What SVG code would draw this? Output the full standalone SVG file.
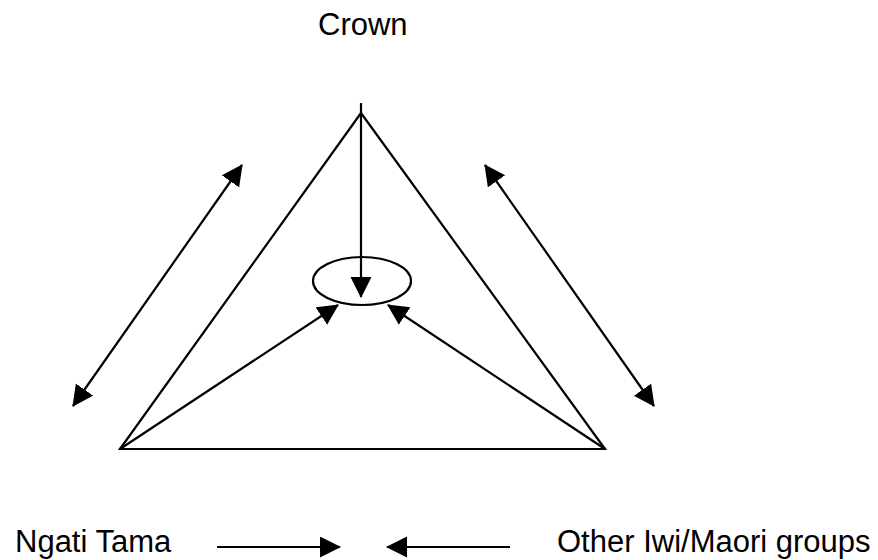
<svg xmlns="http://www.w3.org/2000/svg" width="878" height="560" viewBox="0 0 878 560">
<style>
.ln{stroke:#000;stroke-width:2.2;fill:none}
.lbl{font-family:"Liberation Sans",Arial,sans-serif;font-size:31px;fill:#000}
</style>
<defs>
<marker id="ah" markerUnits="userSpaceOnUse" markerWidth="22" markerHeight="22" refX="20" refY="10.5" orient="auto-start-reverse" viewBox="0 0 22 22">
<path d="M0,0 L21,10.5 L0,21 z" fill="#000"/>
</marker>
</defs>
<rect width="878" height="560" fill="#fff"/>
<g id="crown"><text class="lbl" x="318" y="35">Crown</text></g>
<g id="ngati-tama"><text class="lbl" x="15" y="552">Ngati Tama</text></g>
<g id="other-iwi"><text class="lbl" x="557" y="552">Other Iwi/Maori groups</text></g>
<g id="triangle"><path class="ln" d="M361,113 L120,449 L605,449 Z"/></g>
<g id="centre"><ellipse class="ln" cx="362" cy="281" rx="49" ry="24"/></g>
<g id="connectors">
<line class="ln" x1="361" y1="103" x2="361" y2="297" marker-end="url(#ah)"/>
<line class="ln" x1="120" y1="449" x2="338" y2="305" marker-end="url(#ah)"/>
<line class="ln" x1="605" y1="449" x2="388" y2="305" marker-end="url(#ah)"/>
<line class="ln" x1="73" y1="406" x2="242" y2="165" marker-start="url(#ah)" marker-end="url(#ah)"/>
<line class="ln" x1="654" y1="406" x2="485" y2="165" marker-start="url(#ah)" marker-end="url(#ah)"/>
<line class="ln" x1="217" y1="547" x2="340" y2="547" marker-end="url(#ah)"/>
<line class="ln" x1="510" y1="547" x2="387" y2="547" marker-end="url(#ah)"/>
</g>
</svg>
